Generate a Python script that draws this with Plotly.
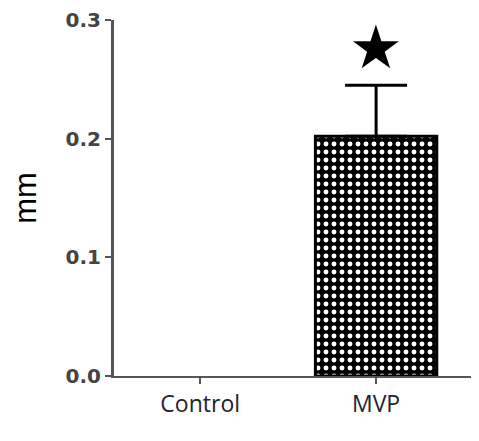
import plotly.graph_objects as go

categories = ["Control", "MVP"]
values = [0.0, 0.202]
errors_plus = [0.0, 0.043]
y_ticks = [0.0, 0.1, 0.2, 0.3]
y_tick_labels = ["0.0", "0.1", "0.2", "0.3"]
star_label = "★"
star_y = 0.277

fig = go.Figure()
for cat, val, err in zip(categories, values, errors_plus):
    fig.add_trace(go.Bar(
        x=[cat], y=[val], width=0.69,
        marker=dict(
            color="white",
            line=dict(color="black", width=3 if val > 0 else 0),
            pattern=dict(shape=".", bgcolor="black", fgcolor="white", size=8, solidity=0.3, fillmode="replace"),
        ),
        error_y=dict(type="data", symmetric=False, array=[err], arrayminus=[0],
                     color="black", thickness=3, width=31, visible=err > 0),
        showlegend=False,
    ))

fig.add_annotation(x=categories[1], y=star_y, text=star_label, showarrow=False,
                   font=dict(size=60, color="black", family="DejaVu Sans"), yanchor="middle")

fig.update_layout(
    width=471, height=433,
    margin=dict(l=106, r=0, t=12, b=65),
    plot_bgcolor="white", paper_bgcolor="white",
    barmode="overlay",
    xaxis=dict(
        range=[-0.49, 1.585], showline=True, linecolor="#555555", linewidth=2,
        ticks="outside", ticklen=6, tickwidth=2, tickcolor="#555555",
        tickfont=dict(family="Open Sans", size=23, color="#222233"),
        showgrid=False, zeroline=False,
        categoryorder="array", categoryarray=categories,
    ),
    yaxis=dict(
        range=[0, 0.3], tickvals=y_ticks, ticktext=[f"<b>{t}</b>" for t in y_tick_labels],
        showline=True, linecolor="#555555", linewidth=3,
        ticks="outside", ticklen=6, tickwidth=2, tickcolor="#555555",
        tickfont=dict(family="DejaVu Sans", size=20, color="#444444"),
        showgrid=False, zeroline=False,
        title=dict(text="mm", font=dict(family="Liberation Sans", size=31, color="black"), standoff=28),
    ),
)

fig.write_html("out.html")
